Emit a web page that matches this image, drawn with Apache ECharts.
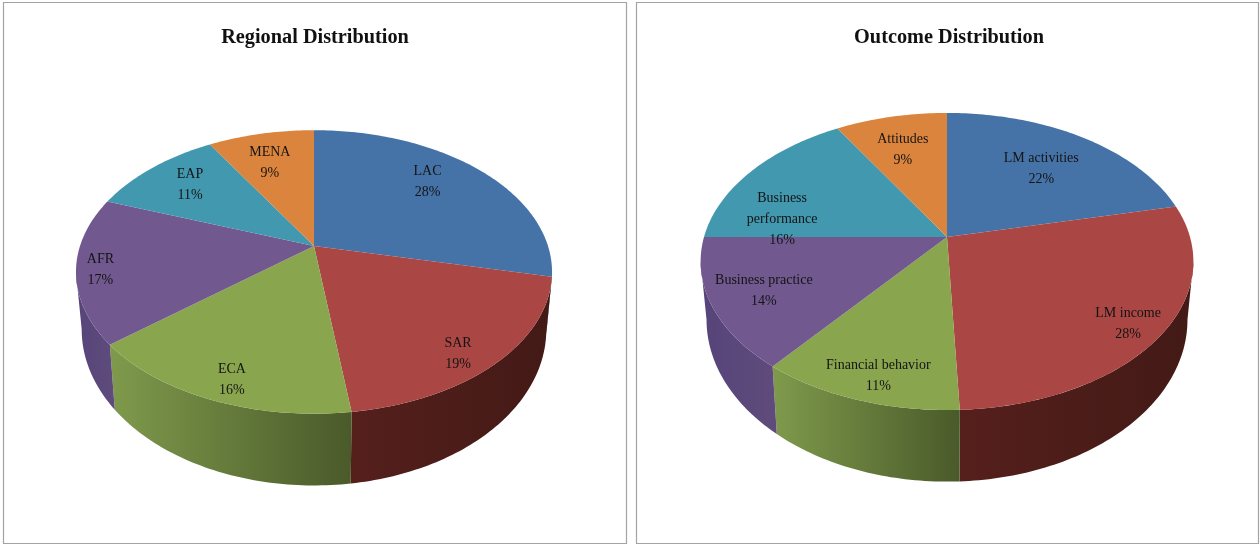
<!DOCTYPE html>
<html>
<head>
<meta charset="utf-8">
<style>html,body{margin:0;padding:0;background:#fff}#c{width:1260px;height:545px}</style>
<script src="https://cdn.jsdelivr.net/npm/echarts@6/dist/echarts.min.js"></script>
</head>
<body>
<div id="c"></div>
<script>
// Data
const regionNames = ['LAC', 'SAR', 'ECA', 'AFR', 'EAP', 'MENA'];
const regionValues = [28.45, 19.45, 16.1, 16.6, 10.8, 8.6];
const outcomeNames = ['LM activities', 'LM income', 'Financial behavior', 'Business practice', 'Business performance', 'Attitudes'];
const outcomeValues = [21.5, 27.8, 11.45, 14.25, 16.4, 8.6];
const chartTitles = ['Regional Distribution', 'Outcome Distribution'];

// Styles and layout
const topColors = ['#4573A7', '#AA4643', '#89A54E', '#71588F', '#4198AF', '#DB843D'];
const wallColors = [
  ['#2f4f75', '#2a4568'], ['#551f1c', '#431a16'], ['#7f9a4c', '#4a5a2a'],
  ['#56447a', '#5f4c7c'], ['#2f6f80', '#2f6f80'], ['#a0612c', '#a0612c']
];
const regionLayout = {
  cx: 314, cy: 246, rx: 234, ry: 137, k: 0.183, wallOffset: 55, wallScaleY: 1.1, wallScaleX: 0.976,
  labelShift: [[-1, -10], [16, 26], [-10, 26], [-47, 7], [-11, -6], [-7, -5]]
};
const outcomeLayout = {
  cx: 947, cy: 237, rx: 243, ry: 144.5, k: 0.165, wallOffset: 56, wallScaleY: 1.09, wallScaleX: 0.976,
  labelShift: [[0, 2], [31, 18], [-6, 25], [-18, 7], [-28, 28], [-5, -3]]
};
const wrappedNames = ['Business performance'];
const labelFont = '14px "Liberation Serif", "Times New Roman", serif';

function ring(layout, deg) {
  const t = deg * Math.PI / 180, s = Math.sin(t), c = Math.cos(t), w = 1 + layout.k * c;
  return [layout.rx * s / w, -layout.ry * c / w];
}
function topPoint(layout, deg) {
  const p = ring(layout, deg);
  return [layout.cx + p[0], layout.cy + p[1]];
}
function wallPoint(layout, deg) {
  const p = ring(layout, deg);
  return [layout.cx + p[0] * layout.wallScaleX, layout.cy + layout.wallOffset + p[1] * layout.wallScaleY];
}
function arcAngles(a, b) {
  const out = [];
  for (let d = a; d < b; d += 1) out.push(d);
  out.push(b);
  return out;
}

function pieSeries(names, values, layout) {
  const total = values.reduce((s, v) => s + v, 0);
  const starts = [];
  values.reduce((s, v, i) => { starts[i] = s; return s + v; }, 0);
  const silR = Math.acos(-layout.k) * 180 / Math.PI, silL = 360 - silR;
  return {
    type: 'custom',
    coordinateSystem: 'none',
    silent: true,
    animation: false,
    data: values.map((v, i) => ({ value: [v], name: names[i] })),
    renderItem(params, api) {
      const i = params.dataIndex, v = api.value(0);
      const a0 = starts[i] / total * 360, a1 = a0 + v / total * 360;
      const children = [];
      const wa = Math.max(a0, silR), wb = Math.min(a1, silL);
      if (wb > wa) {
        const angs = arcAngles(wa, wb);
        const pts = angs.map(d => topPoint(layout, d)).concat(angs.slice().reverse().map(d => wallPoint(layout, d)));
        children.push({
          type: 'polygon',
          shape: { points: pts },
          style: {
            fill: new echarts.graphic.LinearGradient(0, 0, 1, 0, [
              { offset: 0, color: wallColors[i][0] }, { offset: 1, color: wallColors[i][1] }
            ])
          }
        });
      }
      const top = [[layout.cx, layout.cy]].concat(arcAngles(a0, a1).map(d => topPoint(layout, d)));
      children.push({ type: 'polygon', shape: { points: top }, style: { fill: topColors[i] } });
      const b = ring(layout, (a0 + a1) / 2), shift = layout.labelShift[i];
      const nm = names[i];
      const shown = wrappedNames.includes(nm) ? nm.replace(' ', '\n') : nm;
      children.push({
        type: 'text',
        z2: 100,
        style: {
          text: shown + '\n' + Math.round(v) + '%',
          x: layout.cx + 0.7 * b[0] + shift[0],
          y: layout.cy + 0.7 * b[1] + shift[1],
          align: 'center',
          verticalAlign: 'middle',
          font: labelFont,
          lineHeight: 21,
          fill: '#141414'
        }
      });
      return { type: 'group', children };
    }
  };
}

const chart = echarts.init(document.getElementById('c'), null, { renderer: 'canvas' });
chart.setOption({
  animation: false,
  backgroundColor: '#ffffff',
  title: chartTitles.map((t, i) => ({
    text: t,
    left: i === 0 ? 310 : 944,
    top: 23,
    textAlign: 'center',
    textStyle: { fontFamily: '"Liberation Serif", "Times New Roman", serif', fontWeight: 'bold', fontSize: 20.3, color: '#111' }
  })),
  graphic: [
    { type: 'rect', z: -1, shape: { x: 3.5, y: 2.5, width: 623, height: 541 }, style: { fill: '#fff', stroke: '#a3a3a3', lineWidth: 1.2 } },
    { type: 'rect', z: -1, shape: { x: 636.5, y: 2.5, width: 622, height: 541 }, style: { fill: '#fff', stroke: '#a3a3a3', lineWidth: 1.2 } }
  ],
  series: [
    pieSeries(regionNames, regionValues, regionLayout),
    pieSeries(outcomeNames, outcomeValues, outcomeLayout)
  ]
});
</script>
</body>
</html>
